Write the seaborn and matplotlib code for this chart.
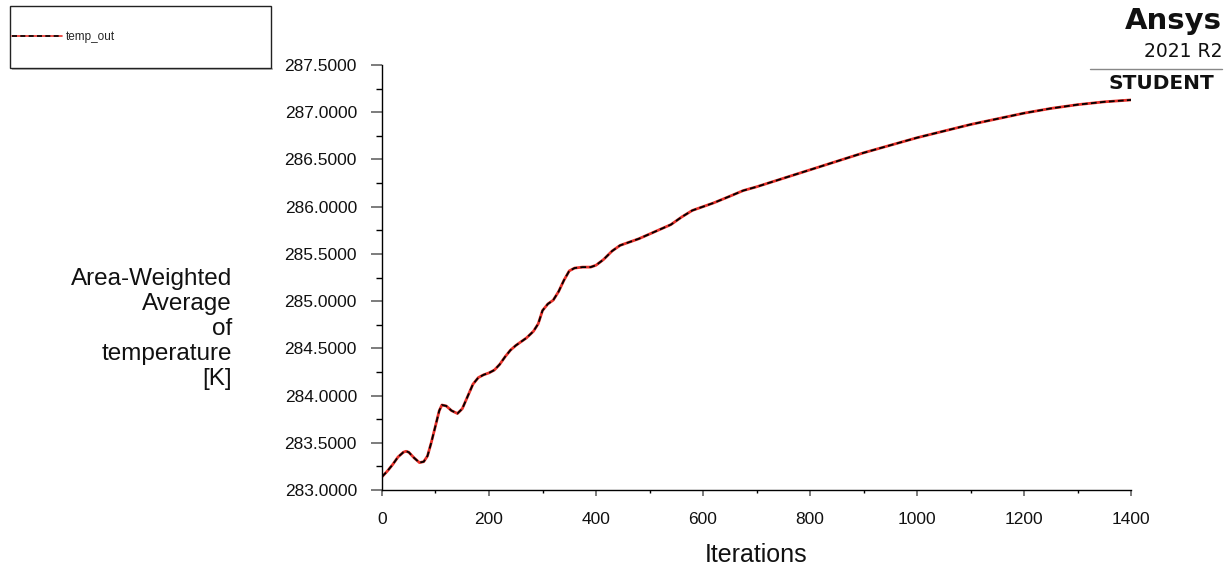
import numpy as np
import pandas as pd
import seaborn as sns
import matplotlib
matplotlib.use("Agg")
import matplotlib.pyplot as plt
from matplotlib.ticker import MultipleLocator, FormatStrFormatter
from matplotlib.patches import Rectangle
from matplotlib.lines import Line2D
from matplotlib.legend_handler import HandlerTuple

# Monitor history of the outlet surface (area-weighted average temperature)
iterations = [0, 10, 20, 30, 40, 45, 50, 60, 70, 78, 85, 92, 100, 107, 112,
              120, 130, 141, 150, 160, 170, 180, 190, 200, 210, 220, 230, 240,
              250, 260, 270, 283, 292, 300, 310, 320, 330, 340, 350, 360, 375,
              390, 400, 414, 430, 445, 460, 480, 500, 520, 540, 560, 580, 600,
              620, 650, 675, 700, 750, 800, 850, 900, 950, 1000, 1050, 1100,
              1150, 1200, 1250, 1300, 1350, 1400]
temp_out = [283.14, 283.20, 283.27, 283.35, 283.40, 283.41, 283.40, 283.34,
            283.29, 283.30, 283.36, 283.50, 283.68, 283.84, 283.90, 283.89,
            283.84, 283.81, 283.86, 283.99, 284.12, 284.19, 284.22, 284.24,
            284.27, 284.33, 284.41, 284.48, 284.53, 284.57, 284.61, 284.68,
            284.76, 284.90, 284.97, 285.01, 285.10, 285.22, 285.32, 285.35,
            285.36, 285.36, 285.38, 285.44, 285.53, 285.59, 285.62, 285.66,
            285.71, 285.76, 285.81, 285.89, 285.96, 286.00, 286.04, 286.11,
            286.17, 286.21, 286.30, 286.39, 286.48, 286.57, 286.65, 286.73,
            286.80, 286.87, 286.93, 286.99, 287.04, 287.08, 287.11, 287.13]

series_name = "temp_out"
x_label = "Iterations"
y_label = "Area-Weighted\nAverage\nof\ntemperature\n[K]"

df = pd.DataFrame({"Iterations": iterations, "temp": temp_out})

sns.set_theme(style="white")
plt.rcParams["font.family"] = ["Liberation Sans", "DejaVu Sans"]

W, H = 1231, 569
fig = plt.figure(figsize=(W / 100, H / 100), dpi=100)
ax = fig.add_axes([382 / W, 1 - 490 / H, (1131 - 382) / W, (490 - 65) / H])

# red solid trace with the black dashed trace drawn over it
sns.lineplot(data=df, x="Iterations", y="temp", ax=ax, color="#e8312a",
             linewidth=2.0, zorder=2)
sns.lineplot(data=df, x="Iterations", y="temp", ax=ax, color="black",
             linewidth=1.3, linestyle=(0, (3.2, 1.8)), zorder=3)

ax.set_xlim(0, 1400)
ax.set_ylim(283.0, 287.5)
ax.xaxis.set_major_locator(MultipleLocator(200))
ax.xaxis.set_minor_locator(MultipleLocator(100))
ax.yaxis.set_major_locator(MultipleLocator(0.5))
ax.yaxis.set_minor_locator(MultipleLocator(0.25))
ax.yaxis.set_major_formatter(FormatStrFormatter("%.4f"))

for side in ("top", "right"):
    ax.spines[side].set_visible(False)
for side in ("left", "bottom"):
    ax.spines[side].set_color("black")
    ax.spines[side].set_linewidth(1.0)

ax.tick_params(axis="y", which="major", left=True, direction="out", length=8,
               width=1.2, color="#666666", labelsize=12.5, labelcolor="#111111",
               pad=10)
ax.tick_params(axis="y", which="minor", left=True, direction="out", length=4,
               width=1.0, color="black")
ax.tick_params(axis="x", which="major", bottom=True, direction="out", length=4,
               width=1.2, color="#666666", labelsize=12.5, labelcolor="#111111",
               pad=12)
ax.tick_params(axis="x", which="minor", bottom=True, direction="out", length=2.5,
               width=1.0, color="black")

ax.set_xlabel(x_label, fontsize=18, color="#111111", labelpad=11)
ax.set_ylabel(y_label, fontsize=17.5, color="#111111", rotation=0,
              ha="right", va="center", multialignment="right",
              linespacing=1.18)
ax.yaxis.set_label_coords((232 - 382) / (1131 - 382), (490 - 329) / (490 - 65))

# legend box in the upper left corner
fig.patches.append(Rectangle((10 / W, 1 - 68 / H), 261 / W, 62 / H,
                             transform=fig.transFigure, facecolor="white",
                             edgecolor="#222222", linewidth=1.0, zorder=5))
fig.patches.append(Rectangle((12 / W, 1 - 70 / H), 261 / W, 2 / H,
                             transform=fig.transFigure, facecolor="#bbbbbb",
                             edgecolor="none", zorder=4))
h_red = Line2D([], [], color="#e8312a", linewidth=1.2)
h_blk = Line2D([], [], color="black", linewidth=1.2, linestyle=(0, (3, 2)))
leg = fig.legend([(h_red, h_blk)], [series_name],
                 handler_map={tuple: HandlerTuple(ndivide=1)},
                 loc="center left", bbox_to_anchor=(12 / W, 1 - 37 / H),
                 frameon=False, fontsize=8.5, handlelength=4.2,
                 handletextpad=0.35, borderaxespad=0, borderpad=0)
leg.set_zorder(6)

# product badge, top right
fig.text(1222 / W, 1 - 29 / H, "Ansys", ha="right", va="baseline",
         fontsize=21, fontweight="bold", color="#111111",
         family=["DejaVu Sans"])
fig.text(1222 / W, 1 - 57 / H, "2021 R2", ha="right", va="baseline",
         fontsize=13.5, color="#111111", family=["DejaVu Sans"])
fig.add_artist(Line2D([1090 / W, 1222 / W], [1 - 69 / H, 1 - 69 / H],
                      transform=fig.transFigure, color="#888888",
                      linewidth=1.0))
fig.text(1214 / W, 1 - 89 / H, "STUDENT", ha="right", va="baseline",
         fontsize=14.5, fontweight="bold", color="#111111",
         family=["DejaVu Sans"])

fig.savefig("out.png", dpi=100, facecolor="white")
